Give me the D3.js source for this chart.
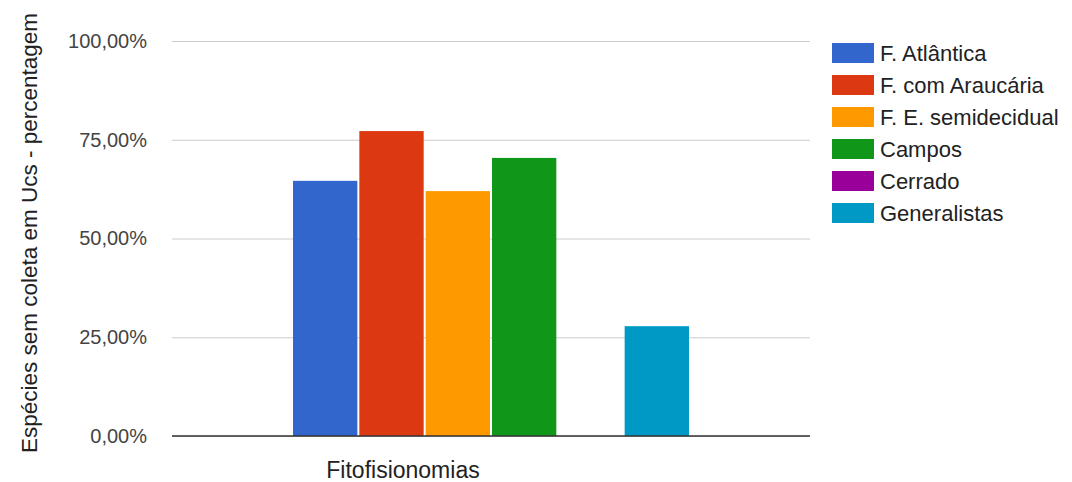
<!DOCTYPE html>
<html>
<head>
<meta charset="utf-8">
<script src="https://cdn.jsdelivr.net/npm/d3@7"></script>
<style>
  body { margin: 0; background: #fff; }
  text { font-family: "Liberation Sans", Arial, sans-serif; }
</style>
</head>
<body>
<script>
let w = 1072;
let h = 482;

// data
let category = ["Fitofisionomias"];
let seriesNames = ["F. Atlântica", "F. com Araucária", "F. E. semidecidual", "Campos", "Cerrado", "Generalistas"];
let seriesValues = [0.646, 0.772, 0.62, 0.704, 0, 0.278];
let seriesColors = ["#3366cc", "#dc3912", "#ff9900", "#109618", "#990099", "#0099c6"];
let yTicks = [0, 0.25, 0.5, 0.75, 1];
let yTitle = "Espécies sem coleta em Ucs - percentagem";

let plotLeft = 172, plotRight = 810, plotTop = 41, plotBottom = 436;

let ptBR = d3.formatLocale({ decimal: ",", thousands: ".", grouping: [3], currency: ["R$", ""] });
let pct = ptBR.format(".2%");

let svg = d3.select("body").append("svg").attr("width", w).attr("height", h);

let yScale = d3.scaleLinear().domain([0, 1]).range([plotBottom, plotTop]);

let x0 = d3.scaleBand().domain(category).range([plotLeft, plotRight]).paddingInner(0).paddingOuter(0.3056);
let x1 = d3.scaleBand().domain(seriesNames).range([0, x0.bandwidth()]).paddingInner(0.03);

// gridlines + tick labels
let y_axis = d3.axisLeft(yScale)
  .tickValues(yTicks)
  .tickFormat(pct)
  .tickSizeInner(-(plotRight - plotLeft))
  .tickSizeOuter(0)
  .tickPadding(25);

let yg = svg.append("g")
  .attr("transform", "translate(" + plotLeft + ",0)")
  .call(y_axis);
yg.select(".domain").remove();
yg.selectAll(".tick line").attr("stroke", "#cccccc").attr("stroke-width", 1);
yg.selectAll(".tick text")
  .attr("fill", "#444")
  .style("font-size", "20px")
  .style("font-family", "'Liberation Sans', Arial, sans-serif");

// bars
let grp = svg.selectAll(".cat")
  .data(category)
  .enter()
  .append("g")
  .attr("class", "cat")
  .attr("transform", (d) => "translate(" + x0(d) + ",0)");

grp.selectAll("rect")
  .data(seriesNames.map((n, i) => ({ name: n, value: seriesValues[i], color: seriesColors[i] })))
  .enter()
  .append("rect")
  .attr("x", (d) => x1(d.name))
  .attr("width", x1.bandwidth())
  .attr("y", (d) => yScale(d.value))
  .attr("height", (d) => yScale(0) - yScale(d.value))
  .attr("fill", (d) => d.color);

// baseline
svg.append("line")
  .attr("x1", plotLeft)
  .attr("x2", plotRight)
  .attr("y1", yScale(0))
  .attr("y2", yScale(0))
  .attr("stroke", "#333")
  .attr("stroke-width", 1.5);

// x label
svg.append("text")
  .attr("x", 403)
  .attr("y", 478)
  .attr("text-anchor", "middle")
  .attr("fill", "#222")
  .style("font-size", "23px")
  .text(category[0]);

// y title
svg.append("text")
  .attr("transform", "translate(37," + 233 + ") rotate(-90)")
  .attr("text-anchor", "middle")
  .attr("fill", "#222")
  .style("font-size", "22.5px")
  .text(yTitle);

// legend
let lg = svg.selectAll(".leg")
  .data(seriesNames)
  .enter()
  .append("g")
  .attr("class", "leg")
  .attr("transform", (d, i) => "translate(832," + (53 + i * 32) + ")");

lg.append("rect")
  .attr("x", 0)
  .attr("y", -10)
  .attr("width", 42)
  .attr("height", 20)
  .attr("fill", (d, i) => seriesColors[i]);

lg.append("text")
  .attr("x", 48)
  .attr("y", 0)
  .attr("dy", "0.36em")
  .attr("fill", "#222")
  .style("font-size", "22px")
  .text((d) => d);
</script>
</body>
</html>
